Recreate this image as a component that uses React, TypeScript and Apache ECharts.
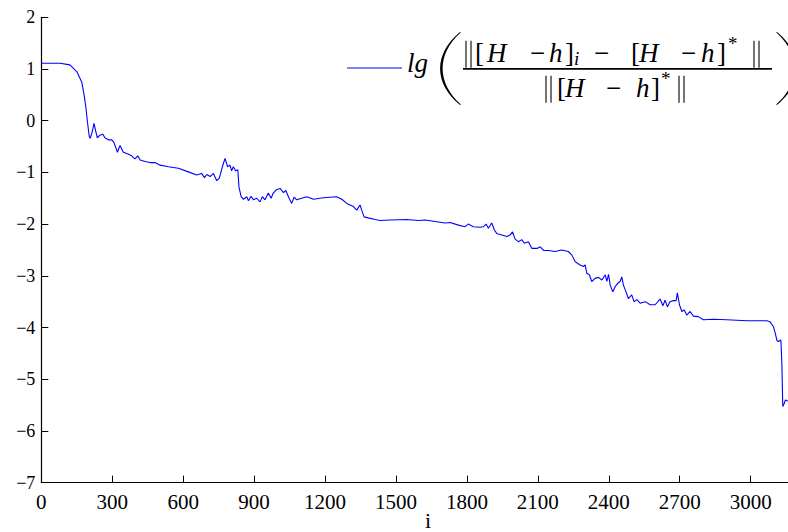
import React, { useEffect, useRef } from "react";
import * as echarts from "echarts";

// iteration index i
const iterations = [
  0, 50, 80, 121, 150, 171, 181, 189, 195, 203, 207, 215, 223, 230, 237, 248, 260, 269, 284, 298,
  307, 322, 333, 347, 364, 382, 396, 408, 418, 439, 460, 481, 502, 537, 580, 622, 657, 678, 690, 700,
  714, 728, 742, 753, 766, 777, 788, 798, 805, 812, 822, 831, 836, 845, 855, 869, 876, 887, 897, 911,
  925, 935, 946, 960, 972, 981, 996, 1010, 1024, 1034, 1048, 1059, 1069, 1080, 1101, 1123, 1151, 1193, 1249, 1271,
  1292, 1320, 1334, 1348, 1355, 1365, 1383, 1412, 1433, 1475, 1546, 1595, 1623, 1665, 1708, 1729, 1764, 1792, 1806, 1827,
  1856, 1870, 1881, 1891, 1905, 1916, 1926, 1948, 1969, 1983, 1993, 2004, 2018, 2032, 2043, 2060, 2075, 2096, 2110, 2124,
  2145, 2173, 2201, 2229, 2244, 2258, 2279, 2293, 2300, 2307, 2318, 2328, 2342, 2356, 2371, 2385, 2392, 2399, 2406, 2417,
  2427, 2437, 2448, 2455, 2462, 2473, 2483, 2497, 2507, 2519, 2533, 2554, 2575, 2596, 2617, 2629, 2638, 2648, 2659, 2673,
  2685, 2690, 2699, 2709, 2719, 2730, 2744, 2758, 2779, 2800, 2843, 2899, 2984, 3069, 3082, 3096, 3104, 3111, 3118, 3128,
  3132, 3136, 3142, 3147, 3157,
];

// lg(||[H-h]_i - [H-h]*|| / ||[H-h]*||)
const errorLog = [
  1.11, 1.11, 1.11, 1.08, 0.95, 0.75, 0.5, 0.24, -0.02, -0.31, -0.34, -0.22, -0.05, -0.2, -0.33, -0.28, -0.26, -0.33, -0.37, -0.37,
  -0.42, -0.61, -0.48, -0.61, -0.64, -0.68, -0.74, -0.68, -0.76, -0.79, -0.81, -0.81, -0.86, -0.89, -0.92, -0.99, -1.05, -1.02, -1.1, -1.04,
  -1.08, -1.02, -1.16, -1.11, -0.89, -0.73, -0.89, -0.86, -0.97, -0.89, -0.97, -0.95, -1.28, -1.47, -1.52, -1.47, -1.55, -1.46, -1.53, -1.5,
  -1.57, -1.47, -1.53, -1.4, -1.5, -1.4, -1.33, -1.31, -1.39, -1.35, -1.5, -1.6, -1.48, -1.53, -1.5, -1.47, -1.52, -1.49, -1.47, -1.52,
  -1.6, -1.66, -1.73, -1.63, -1.73, -1.86, -1.88, -1.91, -1.93, -1.92, -1.91, -1.93, -1.92, -1.95, -1.98, -1.97, -2.02, -2.05, -2.0, -2.05,
  -2.06, -2.05, -2.0, -2.08, -1.98, -2.11, -2.18, -2.21, -2.24, -2.21, -2.15, -2.29, -2.34, -2.3, -2.37, -2.34, -2.47, -2.47, -2.44, -2.51,
  -2.51, -2.53, -2.5, -2.53, -2.6, -2.73, -2.79, -2.82, -2.79, -2.95, -2.98, -3.11, -3.05, -3.03, -3.08, -2.98, -3.11, -2.97, -3.18, -3.31,
  -3.21, -3.15, -3.11, -3.02, -3.18, -3.31, -3.44, -3.37, -3.5, -3.46, -3.53, -3.5, -3.56, -3.56, -3.45, -3.58, -3.47, -3.6, -3.5, -3.48,
  -3.48, -3.33, -3.56, -3.69, -3.66, -3.76, -3.69, -3.78, -3.79, -3.85, -3.84, -3.85, -3.87, -3.87, -3.89, -3.98, -4.11, -4.25, -4.27, -4.24,
  -4.69, -5.53, -5.47, -5.4, -5.42,
];

const xTickValues = [0, 300, 600, 900, 1200, 1500, 1800, 2100, 2400, 2700, 3000];
const yTickValues = [-7, -6, -5, -4, -3, -2, -1, 0, 1, 2];
const xAxisMin = 0;
const xAxisMax = 3158;
const yAxisMin = -7;
const yAxisMax = 2;
const xAxisName = "i";

const LPAREN_PATH = "M 20 0 C -6.5 22 -6.5 51 20 73 L 20.8 72.4 C -3.4 51 -3.4 22 20.8 0.6 Z";

const SERIF = "Times New Roman";
const BLUE = "#0000ff";

function glyph(text: string, x: number, baseline: number, size: number, italic: boolean) {
  return {
    type: "text",
    x,
    y: baseline - 0.3375 * size,
    silent: true,
    style: {
      text,
      fontSize: size,
      fontFamily: SERIF,
      fontStyle: italic ? "italic" : "normal",
      fill: "#000",
      textAlign: "left",
      textVerticalAlign: "middle",
    },
  };
}

function dbar(x: number, baseline: number) {
  const mk = (xx: number) => ({
    type: "line",
    silent: true,
    shape: { x1: xx, y1: baseline - 21, x2: xx, y2: baseline + 6 },
    style: { stroke: "#000", lineWidth: 1.1 },
  });
  return [mk(x), mk(x + 5)];
}

function buildLegend() {
  const nb = 61.7; // numerator baseline
  const db = 96.7; // denominator baseline
  const F = 27;
  const S = 19;
  const els: any[] = [
    { type: "line", silent: true, shape: { x1: 347, y1: 68, x2: 402, y2: 68 }, style: { stroke: BLUE, lineWidth: 1 } },
    glyph("lg", 407, 71.7, F, true),
    { type: "lparen", x: 440, y: 32, silent: true, style: { fill: "#000" } },
    { type: "lparen", x: 797, y: 32, scaleX: -1, silent: true, style: { fill: "#000" } },
    { type: "rect", silent: true, shape: { x: 463, y: 68, width: 309, height: 1.8 }, style: { fill: "#000" } },
    // numerator
    ...dbar(466, nb),
    glyph("[", 475, nb, F, false),
    glyph("H", 487, nb, F, true),
    glyph("\u2212", 530, nb, F, false),
    glyph("h", 549, nb, F, true),
    glyph("]", 565, nb, F, false),
    glyph("i", 574, nb + 3, S, true),
    glyph("\u2212", 594, nb, F, false),
    glyph("[", 631, nb, F, false),
    glyph("H", 639, nb, F, true),
    glyph("\u2212", 681, nb, F, false),
    glyph("h", 701, nb, F, true),
    glyph("]", 717, nb, F, false),
    glyph("*", 728, nb - 12, S, false),
    ...dbar(754, nb),
    // denominator
    ...dbar(546, db),
    glyph("[", 557, db, F, false),
    glyph("H", 565, db, F, true),
    glyph("\u2212", 606, db, F, false),
    glyph("h", 636, db, F, true),
    glyph("]", 651, db, F, false),
    glyph("*", 661, db - 12, S, false),
    ...dbar(679, db),
    // x axis name
    {
      type: "text",
      x: 428,
      y: 528 - 0.3375 * 22,
      silent: true,
      style: { text: xAxisName, fontSize: 22, fontFamily: SERIF, fill: "#000", textAlign: "center", textVerticalAlign: "middle" },
    },
  ];
  return els;
}

export default function App() {
  const ref = useRef<HTMLDivElement>(null);
  useEffect(() => {
    if (!ref.current) return;
    echarts.graphic.registerShape("lparen", echarts.graphic.extendPath(LPAREN_PATH, {}));
    const chart = echarts.init(ref.current, null, { renderer: "svg" });
    const minus = (v: number) => String(v).replace("-", "\u2212");
    chart.setOption({
      animation: false,
      backgroundColor: "#ffffff",
      grid: { left: 41.3, right: 0, top: 17.3, bottom: 49.4, containLabel: false, outerBoundsMode: "none" },
      xAxis: {
        type: "value",
        min: xAxisMin,
        max: xAxisMax,
        interval: 300,
        axisLine: { show: true, onZero: false, lineStyle: { color: "#000", width: 1.2 } },
        axisTick: { show: true, inside: true, length: 7, customValues: xTickValues, lineStyle: { color: "#000", width: 1 } },
        axisLabel: { show: true, customValues: xTickValues, formatter: minus, fontSize: 21, fontFamily: SERIF, color: "#000", margin: 9 },
        splitLine: { show: false },
      },
      yAxis: {
        type: "value",
        min: yAxisMin,
        max: yAxisMax,
        interval: 1,
        axisLine: { show: true, onZero: false, lineStyle: { color: "#000", width: 1.2 } },
        axisTick: { show: true, inside: true, length: 7, customValues: yTickValues, lineStyle: { color: "#000", width: 1 } },
        axisLabel: { show: true, customValues: yTickValues, formatter: minus, fontSize: 18, fontFamily: SERIF, color: "#000", margin: 6 },
        splitLine: { show: false },
      },
      series: [
        {
          type: "line",
          data: iterations.map((x, k) => [x, errorLog[k]]),
          showSymbol: false,
          symbol: "none",
          lineStyle: { color: BLUE, width: 1.1 },
          clip: true,
        },
      ],
      graphic: buildLegend(),
    });
    return () => chart.dispose();
  }, []);
  return (
    <div style={{ position: "fixed", left: 0, top: 0, width: 788, height: 532, background: "#fff" }}>
      <div ref={ref} style={{ position: "absolute", left: 0, top: 0, width: 788, height: 532 }} />
    </div>
  );
}
